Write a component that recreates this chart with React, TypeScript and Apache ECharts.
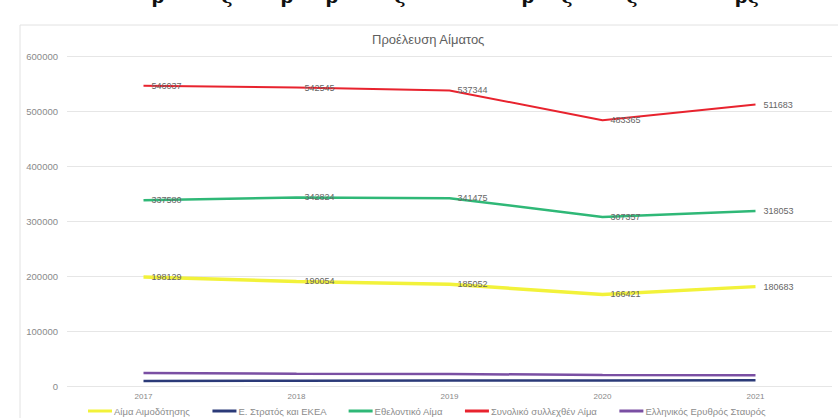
import React, { useEffect, useRef } from "react";
import * as echarts from "echarts";

const years = ["2017", "2018", "2019", "2020", "2021"];
const yTicks = [0, 100000, 200000, 300000, 400000, 500000, 600000];

const seriesNames = [
  "Αίμα Αιμοδότησης",
  "Ε. Στρατός και ΕΚΕΑ",
  "Εθελοντικό Αίμα",
  "Συνολικό συλλεχθέν Αίμα",
  "Ελληνικός Ερυθρός Σταυρός",
];

const donationBlood = [198129, 190054, 185052, 166421, 180683];
const armyBlood = [9100, 9600, 9800, 9900, 10300];
const voluntaryBlood = [337580, 342824, 341475, 307357, 318053];
const totalBlood = [546037, 542545, 537344, 483365, 511683];
const redCrossBlood = [23600, 22500, 21800, 20100, 19500];

const colors = ["#f2f23a", "#2b3a78", "#2fb877", "#e8232e", "#7a4fa3"];
const widths = [3.5, 2.5, 2.5, 2, 2.5];
const labelled = [true, false, true, true, false];

const topGlyphs = [
  { ch: "ρ", x: 158 },
  { ch: "ς", x: 227 },
  { ch: "ρ", x: 287 },
  { ch: "ρ", x: 332 },
  { ch: "ς", x: 400 },
  { ch: "ρ", x: 528 },
  { ch: "ς", x: 567 },
  { ch: "ς", x: 632 },
  { ch: "ρς", x: 747 },
];

export default function App() {
  const ref = useRef<HTMLDivElement>(null);
  useEffect(() => {
    if (!ref.current) return;
    const chart = echarts.init(ref.current, undefined, { renderer: "svg" });
    const data = [donationBlood, armyBlood, voluntaryBlood, totalBlood, redCrossBlood];
    chart.setOption({
      animation: false,
      backgroundColor: "#ffffff",
      textStyle: { fontFamily: "Liberation Sans, Arial, sans-serif" },
      title: {
        text: "Προέλευση Αίματος",
        left: 372,
        top: 33,
        padding: 0,
        textStyle: { fontSize: 13, fontWeight: "normal", color: "#5f5f5f" },
      },
      graphic: [
        {
          type: "rect",
          shape: { x: 20, y: 25, width: 830, height: 400 },
          style: { fill: "none", stroke: "#e2e2e2", lineWidth: 1 },
          silent: true,
        },
        ...topGlyphs.map((g) => ({
          type: "text",
          x: g.x,
          y: -14,
          style: {
            text: g.ch,
            fontSize: 19,
            fontWeight: "bold",
            fill: "#111",
            align: "center",
            verticalAlign: "top",
            fontFamily: "DejaVu Serif, serif",
          },
          silent: true,
        })),
      ],
      legend: {
        left: 88,
        top: 406,
        padding: 0,
        itemWidth: 24,
        itemHeight: 3,
        itemGap: 22,
        icon: "rect",
        textStyle: { fontSize: 9.5, color: "#8c8c8c", padding: [0, 0, 0, -3] },
        data: seriesNames,
      },
      grid: { left: 67, right: 6, top: 56, bottom: 32, containLabel: false },
      xAxis: {
        type: "category",
        data: years,
        boundaryGap: true,
        axisLine: { show: false },
        axisTick: { show: false },
        axisLabel: { fontSize: 8, color: "#888", margin: 6 },
      },
      yAxis: {
        type: "value",
        min: yTicks[0],
        max: yTicks[yTicks.length - 1],
        interval: 100000,
        axisLine: { show: false },
        axisTick: { show: false },
        axisLabel: {
          fontSize: 9.5,
          color: "#8a8a8a",
          margin: 9,
          formatter: (v: number) => String(v),
        },
        splitLine: { lineStyle: { color: "#e6e6e6", width: 1 } },
      },
      series: seriesNames.map((name, i) => ({
        name,
        type: "line",
        data: data[i],
        symbol: "circle",
        symbolSize: 0,
        showSymbol: true,
        color: colors[i],
        itemStyle: { color: colors[i] },
        lineStyle: { color: colors[i], width: widths[i] },
        label: {
          show: labelled[i],
          position: "right",
          distance: 8,
          fontSize: 9,
          color: "#666",
        },
        labelLayout: { hideOverlap: false },
        z: i === 0 ? 3 : 2,
      })),
    });
    return () => chart.dispose();
  }, []);
  return (
    <div
      ref={ref}
      style={{ position: "fixed", left: 0, top: 0, width: 838, height: 418 }}
    />
  );
}
